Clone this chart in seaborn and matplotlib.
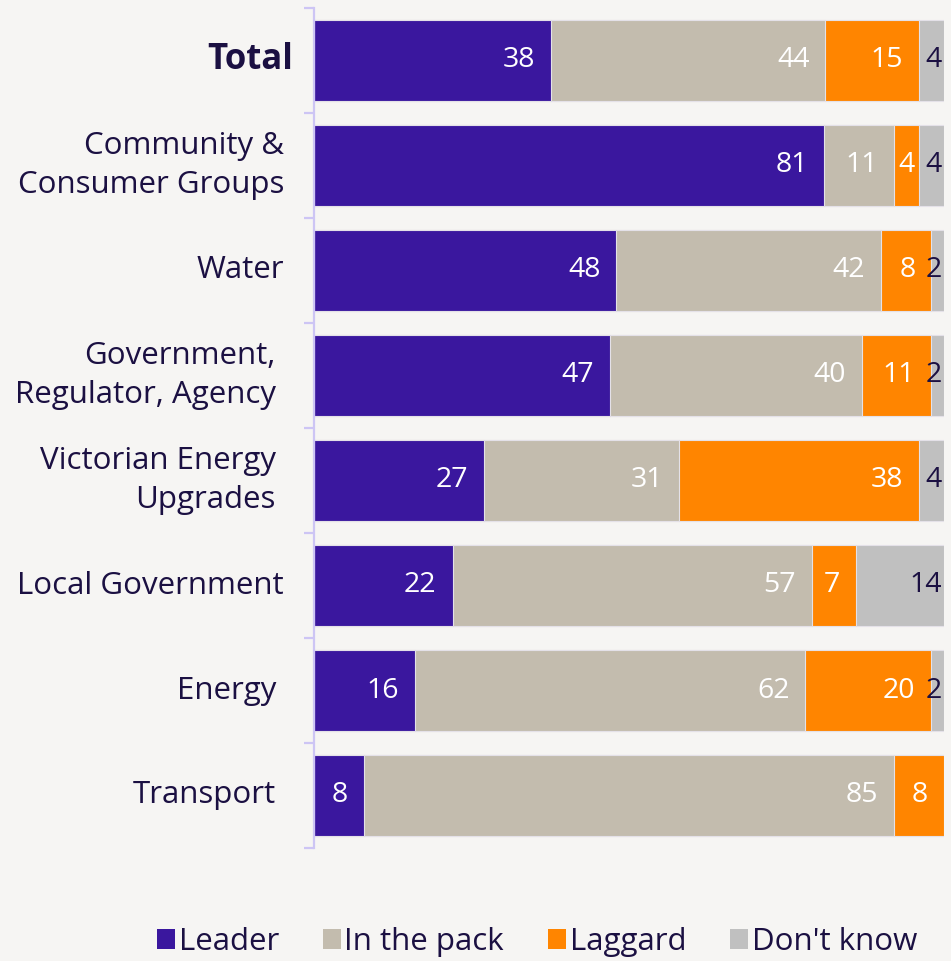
import numpy as np
import pandas as pd
import matplotlib
matplotlib.use("Agg")
import matplotlib.pyplot as plt
from matplotlib.patches import Patch
import seaborn as sns

categories = ["Total", "Community &\nConsumer Groups", "Water",
              "Government,\nRegulator, Agency", "Victorian Energy\nUpgrades",
              "Local Government", "Energy", "Transport"]
series = ["Leader", "In the pack", "Laggard", "Don't know"]
leader = [38, 81, 48, 47, 27, 22, 16, 8]
in_pack = [44, 11, 42, 40, 31, 57, 62, 85]
laggard = [15, 4, 8, 11, 38, 7, 20, 8]
dont_know = [4, 4, 2, 2, 4, 14, 2, 0]

colors = ["#3a179e", "#c3bcae", "#ff8500", "#c0c0c0"]
text_dark = "#1b1042"
bg = "#f6f5f3"
FS_CAT = 22.5
FS_VAL = 20.5

sns.set_theme(style="white")
plt.rcParams["font.family"] = ["Open Sans", "DejaVu Sans"]

vals = np.array([leader, in_pack, laggard, dont_know], dtype=float)
totals = vals.sum(axis=0)
cum = np.cumsum(vals, axis=0) / totals * 100  # normalised cumulative shares

fig = plt.figure(figsize=(9.51, 9.61), dpi=100, facecolor=bg)
ax = fig.add_axes([314 / 951, 1 - 848 / 961, 630 / 951, 840 / 961])
ax.set_facecolor(bg)

ypos = list(range(len(categories)))
for k in range(len(series) - 1, -1, -1):
    df = pd.DataFrame({"cat": ypos, "v": cum[k]})
    sns.barplot(data=df, x="v", y="cat", orient="h", color=colors[k],
                saturation=1, width=0.77, edgecolor="#e4e1e8", linewidth=0.8,
                ax=ax, order=ypos)

ax.set_xlim(0, 100)
ax.set_ylim(7.5, -0.5)
ax.set_xlabel("")
ax.set_ylabel("")
ax.set_xticks([])
ax.set_yticks(ypos)
ax.set_yticklabels([])
ax.set_yticks(np.arange(-0.5, 8.0, 1.0), minor=True)
ax.tick_params(axis="y", which="major", left=False, length=0)
ax.tick_params(axis="y", which="minor", left=True, length=7, width=1.6,
               color="#cdc5f4", direction="out")
for s in ["top", "right", "bottom"]:
    ax.spines[s].set_visible(False)
ax.spines["left"].set_color("#cdc5f4")
ax.spines["left"].set_linewidth(1.6)

# category labels
label_shift = {0: -9, 3: 8, 4: 8, 6: 8, 7: 8}
for i, c in enumerate(categories):
    off_px = 30 + label_shift.get(i, 0)
    bold = i == 0
    ax.annotate(c, xy=(0, i), xycoords=("axes fraction", "data"),
                xytext=(-off_px * 0.72, 0), textcoords="offset points",
                ha="right", va="center", fontsize=25 if bold else FS_CAT,
                fontweight="bold" if bold else "normal", color=text_dark,
                linespacing=1.35)

# value labels
px_per_unit = 630 / 100
starts = np.vstack([np.zeros(len(categories)), cum[:-1]])
for k in range(len(series)):
    for i in range(len(categories)):
        v = vals[k, i]
        if v <= 0:
            continue
        txt = f"{int(v)}"
        s, e = starts[k, i], cum[k, i]
        seg_px = (e - s) * px_per_unit
        tw = 16 * len(txt)
        if k == 3:
            ax.annotate(txt, xy=(e, i), xytext=(-2 * 0.72, 0),
                        textcoords="offset points", ha="right", va="center",
                        fontsize=FS_VAL, color=text_dark)
        elif seg_px - 16 < tw + 6:
            ax.annotate(txt, xy=((s + e) / 2, i), ha="center", va="center",
                        fontsize=FS_VAL, color="white")
        else:
            ax.annotate(txt, xy=(e, i), xytext=(-16 * 0.72, 0),
                        textcoords="offset points", ha="right", va="center",
                        fontsize=FS_VAL, color="white")

handles = [Patch(facecolor=colors[k], edgecolor="none", label=series[k])
           for k in range(len(series))]
fig.legend(handles=handles, loc="center", bbox_to_anchor=(537 / 951, 1 - 942 / 961),
           bbox_transform=fig.transFigure, ncol=4, frameon=False, fontsize=FS_CAT,
           handlelength=0.58, handleheight=0.58, handletextpad=0.12,
           columnspacing=1.4, labelcolor=text_dark)

fig.savefig("out.png", dpi=100, facecolor=bg)
